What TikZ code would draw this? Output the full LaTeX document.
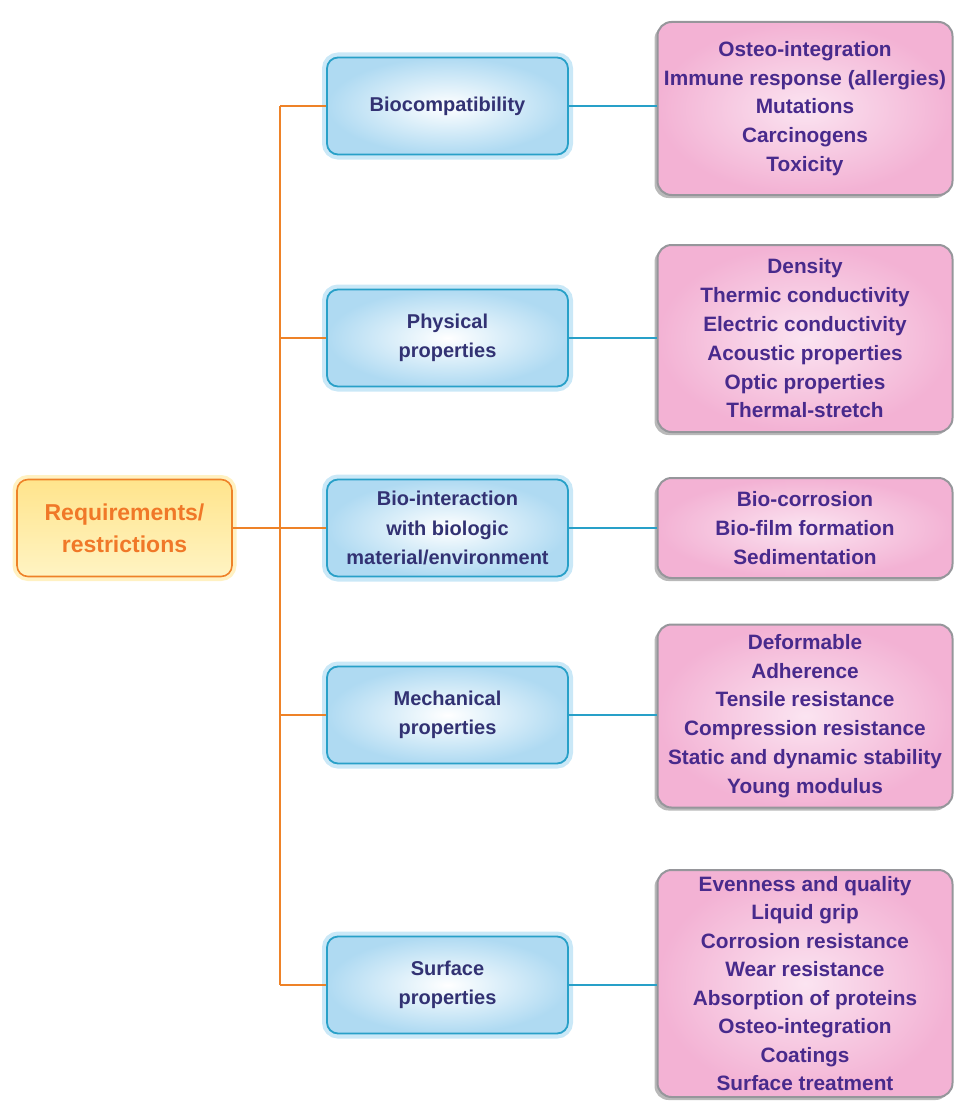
\documentclass[tikz,border=0pt]{standalone}
\usepackage{fontspec}
\setmainfont{Liberation Sans}
\usetikzlibrary{shadows}
\definecolor{borange}{RGB}{238,130,40}
\definecolor{roottop}{RGB}{255,228,140}
\definecolor{rootbot}{RGB}{255,244,195}
\definecolor{roottext}{RGB}{240,120,40}
\definecolor{rootglow}{RGB}{255,225,120}
\definecolor{bluefill}{RGB}{175,218,242}
\definecolor{blueline}{RGB}{40,160,200}
\definecolor{blueglow}{RGB}{150,210,240}
\definecolor{pinkfill}{RGB}{243,178,212}
\definecolor{pinkin}{RGB}{251,228,241}
\definecolor{pinkborder}{RGB}{150,150,155}
\definecolor{purtext}{RGB}{72,42,140}
\definecolor{navytext}{RGB}{50,50,115}
\begin{document}
\begin{tikzpicture}[x=1pt,y=-1pt,
  rootbox/.style={draw=borange, line width=1.6pt, rounded corners=11pt,
    minimum width=215pt, minimum height=97pt, top color=roottop, bottom color=rootbot,
    preaction={draw=rootglow, line width=9pt, opacity=0.45},
    text=roottext, font=\bfseries\fontsize{23}{32}\selectfont, align=center},
  bluebox/.style={draw=blueline, line width=1.8pt, rounded corners=11pt,
    minimum width=241pt, minimum height=97pt, inner color=white, outer color=bluefill,
    preaction={draw=blueglow, line width=10pt, opacity=0.5},
    text=navytext, font=\bfseries\fontsize{20}{29.5}\selectfont, align=center},
  pinkbox/.style={draw=pinkborder, line width=2pt, rounded corners=14pt,
    minimum width=295pt, inner color=pinkin, outer color=pinkfill,
    general shadow={shadow xshift=-3pt, shadow yshift=-3pt, fill=gray, opacity=0.55},
    text=purtext, font=\bfseries\fontsize{20.8}{28.8}\selectfont, align=center},
  trunk/.style={draw=borange, line width=1.8pt},
  twig/.style={draw=blueline, line width=1.8pt}
]
\useasboundingbox (0,0) rectangle (959,1108);
% root
\node[rootbox] (root) at (124.5,528) {Requirements/\\restrictions};
% blue boxes
\node[bluebox] (b1) at (447.5,106) {Biocompatibility};
\node[bluebox] (b2) at (447.5,338) {Physical\\properties};
\node[bluebox] (b3) at (447.5,528) {Bio-interaction\\with biologic\\material/environment};
\node[bluebox] (b4) at (447.5,715) {Mechanical\\properties};
\node[bluebox] (b5) at (447.5,985) {Surface\\properties};
% pink boxes
\node[pinkbox, minimum height=173pt] (p1) at (805,108.5) {Osteo-integration\\Immune response (allergies)\\Mutations\\Carcinogens\\Toxicity};
\node[pinkbox, minimum height=187pt] (p2) at (805,338.5) {Density\\Thermic conductivity\\Electric conductivity\\Acoustic properties\\Optic properties\\Thermal-stretch};
\node[pinkbox, minimum height=100pt] (p3) at (805,528) {Bio-corrosion\\Bio-film formation\\Sedimentation};
\node[pinkbox, minimum height=183pt] (p4) at (805,716) {Deformable\\Adherence\\Tensile resistance\\Compression resistance\\Static and dynamic stability\\Young modulus};
\node[pinkbox, minimum height=227pt, font=\bfseries\fontsize{20.8}{28.5}\selectfont] (p5) at (805,983.5) {Evenness and quality\\Liquid grip\\Corrosion resistance\\Wear resistance\\Absorption of proteins\\Osteo-integration\\Coatings\\Surface treatment};
% trunk
\coordinate (ttop) at (280,106);
\coordinate (tbot) at (280,985);
\draw[trunk] (ttop) -- (tbot);
\draw[trunk] (root.east) -- (b3.west);
\foreach \b in {b1,b2,b4,b5}{
  \draw[trunk] (\b.west -| ttop) -- (\b.west);
}
\foreach \i in {1,...,5}{
  \draw[twig] (b\i.east) -- (b\i.east -| p\i.west);
}
\end{tikzpicture}
\end{document}
